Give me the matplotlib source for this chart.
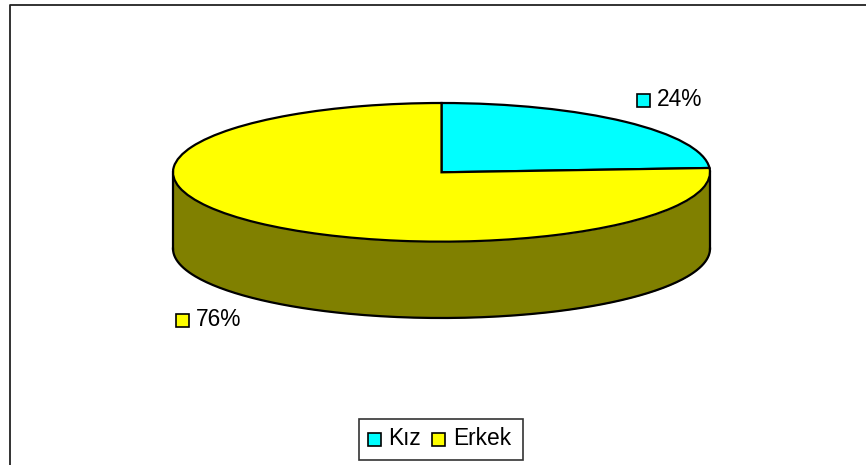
import matplotlib
matplotlib.use('Agg')
import matplotlib.pyplot as plt
import numpy as np
from matplotlib.patches import Rectangle

labels = ['Kız', 'Erkek']
shares = [24, 76]
share_text = ['24%', '76%']
colors = ['#00ffff', '#ffff00']
wall_color = '#808000'

plt.rcParams['font.family'] = ['Liberation Sans', 'DejaVu Sans']

W, H = 866, 465
fig = plt.figure(figsize=(W / 100, H / 100), dpi=100)

# pixel layer for frame and text
bg = fig.add_axes([0, 0, 1, 1])
bg.set_xlim(0, W)
bg.set_ylim(H, 0)
bg.axis('off')
# frame only shows left and top, the rest is cropped away
bg.plot([10, 10, W + 5], [H + 5, 4.8, 4.8], color='#222222', lw=1.3)


def pix_axes(x0, y0, x1, y1):
    return fig.add_axes([x0 / W, 1 - y1 / H, (x1 - x0) / W, (y1 - y0) / H])


# pie body, unit circle squashed by the axes size
depth = 76 / 69
ax = pix_axes(173, 103, 710, 318)
ax.pie(shares, colors=colors, startangle=90, counterclock=False, radius=1,
       wedgeprops=dict(edgecolor='black', linewidth=1.6))
ax.set_aspect('auto')
ax.set_frame_on(False)
ax.set_xlim(-1, 1)
ax.set_ylim(-1 - depth, 1)
ax.set_xticks([])
ax.set_yticks([])
for w in ax.patches:
    w.set_clip_on(False)
    w.set_zorder(3)

t = np.linspace(np.pi, 2 * np.pi, 200)
ax.fill_between(np.cos(t), np.sin(t), np.sin(t) - depth, color=wall_color, lw=0, zorder=1)
ax.plot(np.cos(t), np.sin(t) - depth, color='black', lw=1.6, clip_on=False, zorder=2)
ax.plot([-1, -1], [0, -depth], color='black', lw=1.6, clip_on=False, zorder=2)
ax.plot([1, 1], [0, -depth], color='black', lw=1.6, clip_on=False, zorder=2)

# data labels
for i, (x, y) in enumerate([(637, 100), (176, 320)]):
    bg.add_patch(Rectangle((x, y - 6), 13, 13, fc=colors[i], ec='black', lw=1.2))
    bg.text(x + 20, y - 0.5, share_text[i], fontsize=16.4, va='center', ha='left', color='black')

# legend
bg.add_patch(Rectangle((358.5, 419), 164, 41, fc='white', ec='#333333', lw=1.2))
for x, tx, lab, c in zip([368, 432], [388, 453], labels, colors):
    bg.add_patch(Rectangle((x, 433), 13, 13, fc=c, ec='black', lw=1.2))
    bg.text(tx, 438.5, lab, fontsize=16.4, va='center', ha='left', color='black')

fig.savefig('out.png', dpi=100)
